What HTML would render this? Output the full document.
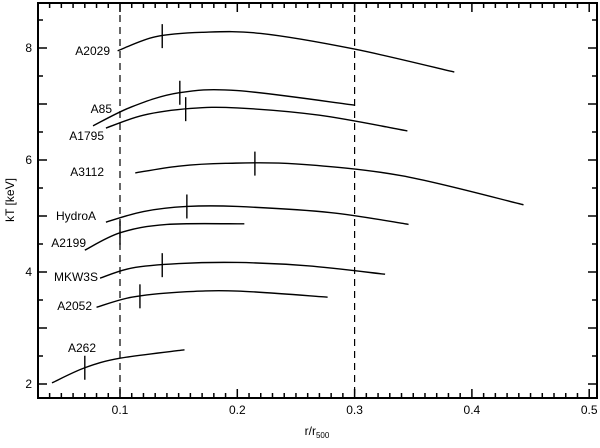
<!DOCTYPE html>
<html><head><meta charset="utf-8"><style>
body{margin:0;background:#fff}
svg text{font-family:"Liberation Sans",sans-serif;font-size:12px;fill:#000}
</style></head><body>
<svg id="chart" width="600" height="443" viewBox="0 0 600 443" xmlns="http://www.w3.org/2000/svg">
<g id="axes"></g>
<g id="series"></g>
</svg>
<script>
const clusterNames=["A2029","A85","A1795","A3112","HydroA","A2199","MKW3S","A2052","A262"];
const curveR=[
[0.098,0.13,0.17,0.22,0.3,0.385],
[0.077,0.11,0.15,0.2,0.3],
[0.088,0.12,0.16,0.2,0.27,0.345],
[0.113,0.15,0.19,0.25,0.34,0.444],
[0.088,0.12,0.157,0.2,0.28,0.346],
[0.07,0.1,0.14,0.206],
[0.083,0.11,0.15,0.2,0.26,0.326],
[0.08,0.11,0.15,0.2,0.277],
[0.042,0.07,0.1,0.155]];
const curveT=[
[7.95,8.2,8.28,8.26,7.98,7.57],
[6.61,6.95,7.2,7.24,6.98],
[6.57,6.8,6.92,6.93,6.8,6.52],
[5.77,5.89,5.94,5.93,5.72,5.2],
[4.89,5.08,5.17,5.17,5.06,4.85],
[4.39,4.7,4.85,4.86],
[3.89,4.07,4.15,4.17,4.11,3.96],
[3.37,3.55,3.64,3.66,3.55],
[2.02,2.29,2.46,2.61]];
const markR=[0.136,0.151,0.156,0.215,0.157,0.1,0.136,0.117,0.07];
const labelPos=[[110,55],[112,113],[104,140],[104,176],[96,220],[86,247],[98,281],[92,310],[96,352]];
const xTicks=[0.1,0.2,0.3,0.4,0.5];
const yTicks=[2,4,6,8];
const dashedR=[0.1,0.3];

const L=38,R=597,T=3,B=398;
const x=r=>2.7+r*1173;
const y=t=>384-(t-2)*56;
const ns="http://www.w3.org/2000/svg";
function mk(tag,attrs,parent){const e=document.createElementNS(ns,tag);for(const k in attrs)e.setAttribute(k,attrs[k]);parent.appendChild(e);return e;}
const ax=document.getElementById('axes'),se=document.getElementById('series');
let fr=mk('rect',{x:L,y:T,width:R-L,height:B-T,fill:'none',stroke:'#000','stroke-width':2},ax);


for(let i=3;i<=50;i++){const r=i/100,px=x(r);if(px<L||px>R)continue;const len=i%10==0?9:5;
 let t1=mk('line',{x1:px,x2:px,y1:B,y2:B-len,stroke:'#000','stroke-width':1.5},ax);
 
 
 let t2=mk('line',{x1:px,x2:px,y1:T,y2:T+len,stroke:'#000','stroke-width':1.5},ax);
 
 }
xTicks.forEach(v=>{let t=mk('text',{x:x(v),y:414,'text-anchor':'middle'},ax);t.textContent=v.toFixed(1);
 
 });
for(let i=4;i<=17;i++){const v=i/2,py=y(v);if(py<T||py>B)continue;const len=i%2==0?9:5;
 let t1=mk('line',{x1:L,x2:L+len,y1:py,y2:py,stroke:'#000','stroke-width':1.5},ax);
 
 
 let t2=mk('line',{x1:R,x2:R-len,y1:py,y2:py,stroke:'#000','stroke-width':1.5},ax);
 
 }
yTicks.forEach(v=>{let t=mk('text',{x:32,y:y(v)+4,'text-anchor':'end'},ax);t.textContent=v;
 
 });
let xt=mk('text',{x:317,y:435,'text-anchor':'middle'},ax);xt.innerHTML='r/r<tspan font-size="8" dy="3">500</tspan>';


let yt=mk('text',{x:14,y:200,'text-anchor':'middle',transform:'rotate(-90 14 200)'},ax);yt.textContent='kT [keV]';


dashedR.forEach(v=>{let d=mk('line',{x1:x(v),x2:x(v),y1:T,y2:B,stroke:'#000','stroke-width':1.2,'stroke-dasharray':'7,5'},ax);
 
 });
function interp(rs,ts,r){for(let i=0;i<rs.length-1;i++){if(r<=rs[i+1]){const f=(r-rs[i])/(rs[i+1]-rs[i]);return ts[i]+f*(ts[i+1]-ts[i]);}}return ts[ts.length-1];}
clusterNames.forEach((nm,i)=>{
 const rs=curveR[i],ts=curveT[i];const P=rs.map((r,k)=>[x(r),y(ts[k])]);
 let d='M'+P[0][0]+','+P[0][1];
 for(let k=0;k<P.length-1;k++){const p0=P[k-1]||P[k],p1=P[k],p2=P[k+1],p3=P[k+2]||P[k+1];
  d+=' C'+(p1[0]+(p2[0]-p0[0])/6)+','+(p1[1]+(p2[1]-p0[1])/6)+' '+(p2[0]-(p3[0]-p1[0])/6)+','+(p2[1]-(p3[1]-p1[1])/6)+' '+p2[0]+','+p2[1];}
 let c=mk('path',{d:d,fill:'none',stroke:'#000','stroke-width':1.4},se);
 
 
 const mx=x(markR[i]),my=y(interp(rs,ts,markR[i]));
 let m=mk('line',{x1:mx,x2:mx,y1:my-12,y2:my+12,stroke:'#000','stroke-width':1.4},se);
 
 
 let lb=mk('text',{x:labelPos[i][0],y:labelPos[i][1],'text-anchor':'end'},se);lb.textContent=nm;
 
 
});
</script>
</body></html>
